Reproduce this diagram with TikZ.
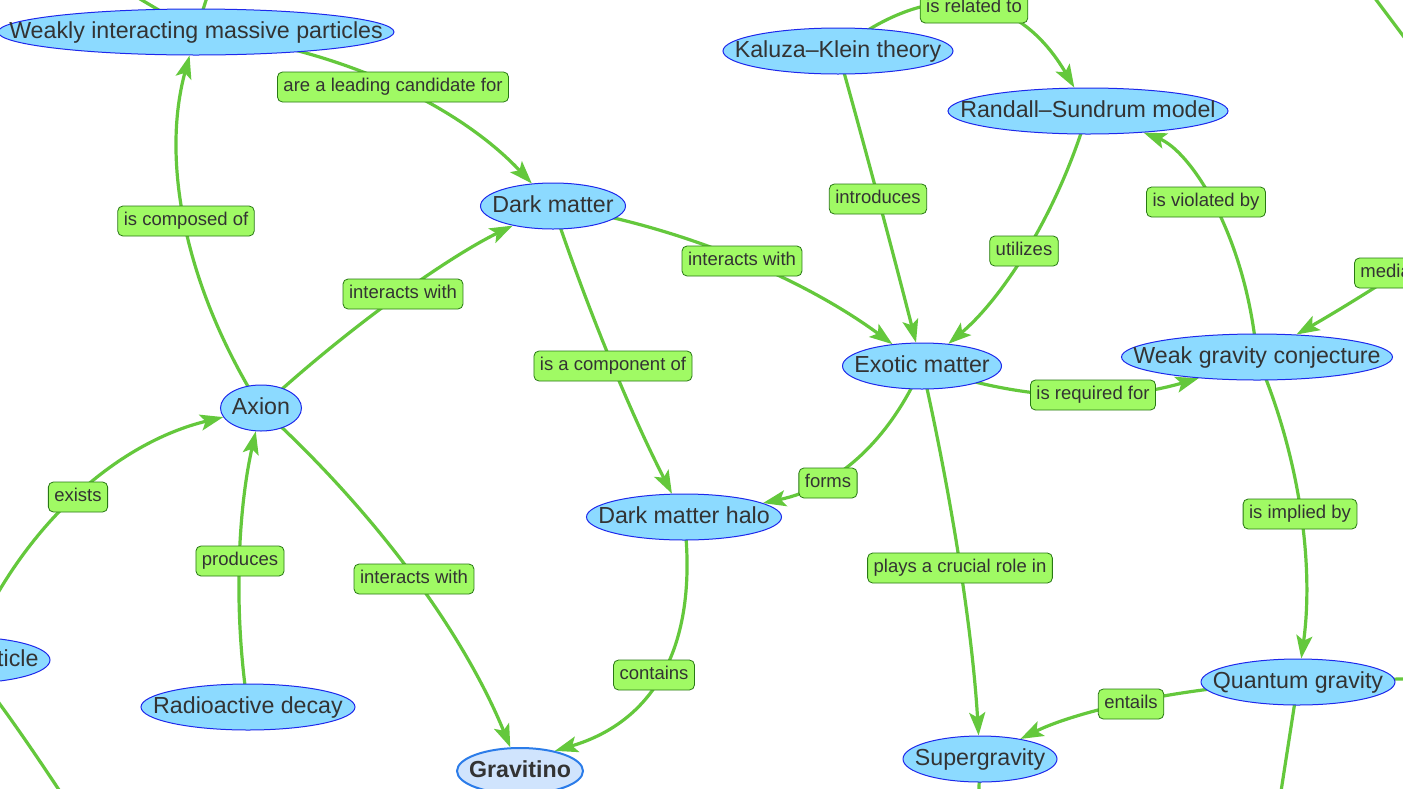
\documentclass[tikz,border=0pt]{standalone}
\usepackage{fontspec}
\setmainfont{Liberation Sans}
\usetikzlibrary{shapes.geometric,arrows.meta,backgrounds,calc}

\definecolor{conceptfill}{RGB}{140,218,255}
\definecolor{conceptline}{RGB}{30,40,235}
\definecolor{tagfill}{RGB}{160,250,100}
\definecolor{tagline}{RGB}{40,120,20}
\definecolor{linkgreen}{RGB}{100,200,60}
\definecolor{inkgray}{RGB}{51,51,51}
\definecolor{focusfill}{RGB}{208,228,253}
\definecolor{focusline}{RGB}{43,124,233}

\tikzset{
	concept/.style={shape=ellipse, draw=conceptline, fill=conceptfill, line width=1pt,
		inner sep=0pt, minimum height=46pt, text height=17pt, text depth=5pt, text=inkgray,
		font=\fontsize{23.2}{28}\selectfont,
		execute at begin node={\hbox to 0pt\bgroup\hss}, execute at end node={\hss\egroup}},
	focus/.style={concept, draw=focusline, fill=focusfill, line width=2pt,
		font=\fontsize{23.2}{28}\selectfont\bfseries},
	tag/.style={shape=rectangle, rounded corners=5pt, draw=tagline, fill=tagfill, line width=0.8pt,
		inner xsep=6pt, inner ysep=0pt, minimum height=30pt, text height=13pt, text depth=4pt,
		text=inkgray, font=\fontsize{18.5}{22}\selectfont},
	link/.style={draw=linkgreen, fill=none, line width=3.2pt,
		-{Stealth[length=23pt,width=16pt,inset=5pt,fill=linkgreen]}},
	plain/.style={draw=linkgreen, line width=3.2pt},
	via/.style={to path={.. controls ($(\tikztostart)!2/3!(#1)$) and ($(\tikztotarget)!2/3!(#1)$) .. (\tikztotarget)}},
}

\begin{document}
\begin{tikzpicture}[x=1pt,y=-1pt]
	
	\useasboundingbox (0,0) rectangle (1403,788);
	
	\node[concept, minimum width=396pt] (wimp) at (196, 32)    {Weakly interacting massive particles};
	\node[concept, minimum width=230pt] (kk) at (838, 51)      {Kaluza–Klein theory};
	\node[concept, minimum width=280pt] (rs) at (1088, 111)    {Randall–Sundrum model};
	\node[concept, minimum width=145pt] (dm) at (553, 206)     {Dark matter};
	\node[concept, minimum width=159pt] (exo) at (922, 366)    {Exotic matter};
	\node[concept, minimum width=271pt] (wgc) at (1257, 357)   {Weak gravity conjecture};
	\node[concept, minimum width=81pt] (ax) at (261, 408)      {Axion};
	\node[concept, minimum width=195pt] (halo) at (684, 517)   {Dark matter halo};
	\node[concept, minimum width=194pt] (qg) at (1298, 682)    {Quantum gravity};
	\node[concept, minimum width=154pt] (sugra) at (980, 759)  {Supergravity};
	\node[concept, minimum width=214pt] (decay) at (248, 707)  {Radioactive decay};
	\node[concept, minimum width=170pt] (scalar) at (-35, 660) {Scalar particle};
	\node[focus, minimum width=126pt] (grav) at (520, 771)     {Gravitino};
	
	\node[tag] (rel) at (974, 8)     {is related to};
	\node[tag] (cand) at (393, 87)   {are a leading candidate for};
	\node[tag] (comp) at (186, 221)  {is composed of};
	\node[tag] (axdm) at (403, 294)  {interacts with};
	\node[tag] (dmex) at (742, 261)  {interacts with};
	\node[tag] (intro) at (878, 199) {introduces};
	\node[tag] (util) at (1024, 251) {utilizes};
	\node[tag] (viol) at (1206, 202) {is violated by};
	\node[tag] (med) at (1398, 273)  {mediates};
	\node[tag] (part) at (613, 366)  {is a component of};
	\node[tag] (req) at (1093, 395)  {is required for};
	\node[tag] (exist) at (78, 497)  {exists};
	\node[tag] (form) at (828, 483)  {forms};
	\node[tag] (impl) at (1300, 514) {is implied by};
	\node[tag] (prod) at (240, 561)  {produces};
	\node[tag] (axgr) at (414, 579)  {interacts with};
	\node[tag] (role) at (960, 568)  {plays a crucial role in};
	\node[tag] (cont) at (654, 675)  {contains};
	\node[tag] (ent) at (1131, 704)  {entails};
	
	\coordinate (offa) at (40, -60);
	\coordinate (offb) at (225, -60);
	\coordinate (offc) at (1350, -35);
	\coordinate (offd) at (1440, 85);
	\coordinate (offm) at (1520, 190);
	\coordinate (offe) at (130, 900);
	\coordinate (offf) at (975, 900);
	\coordinate (offg) at (1275, 830);
	\coordinate (offh) at (1500, 676);
	
	\begin{scope}[on background layer]
	\fill[white] (0,0) rectangle (1403,788);
	
	\path[plain] (wimp.center) -- (offa);
	\path[plain] (wimp.center) -- (offb);
	\path[plain] (offc) -- (offd);
	\path[plain] (scalar.center) to[via={10,710}] (offe);
	\path[plain] (sugra.center) -- (offf);
	\path[plain] (qg.center) -- (offg);
	\path[plain] (qg.center) -- (offh);
	
	\path[link] (wimp.center) to[via={411,55}] (dm);
	\path[link] (ax.center) to[via={144,222}] (wimp);
	\path[link] (ax.center) to[via={399,281}] (dm);
	\path[link] (dm.center) to[via={746,236}] (exo);
	\path[link] (kk.center) to[via={877,190}] (exo);
	\path[link] (kk.center) to[via={985,-65}] (rs);
	\path[link] (rs.center) to[via={1043,264}] (exo);
	\path[link] (wgc.center) to[via={1240,170}] (rs);
	\path[link] (offm) to[via={1406,272}] (wgc);
	\path[link] (dm.center) to[via={608,370}] (halo);
	\path[link] (exo.center) to[via={1065,417}] (wgc.200);
	\path[link] (exo.center) to[via={872,480}] (halo.10);
	\path[link] (exo.center) to[via={969,574}] (sugra);
	\path[link] (wgc.center) to[via={1322,508}] (qg);
	\path[link] (qg.center) to[via={1123,688}] (sugra);
	\path[link] (scalar.center) to[via={45,460}] (ax);
	\path[link] (decay.center) to[via={226,564}] (ax);
	\path[link] (ax.center) to[via={437,568}] (grav);
	\path[link] (halo.center) to[via={707,706}] (grav.30);
	\end{scope}
	
\end{tikzpicture}
\end{document}
